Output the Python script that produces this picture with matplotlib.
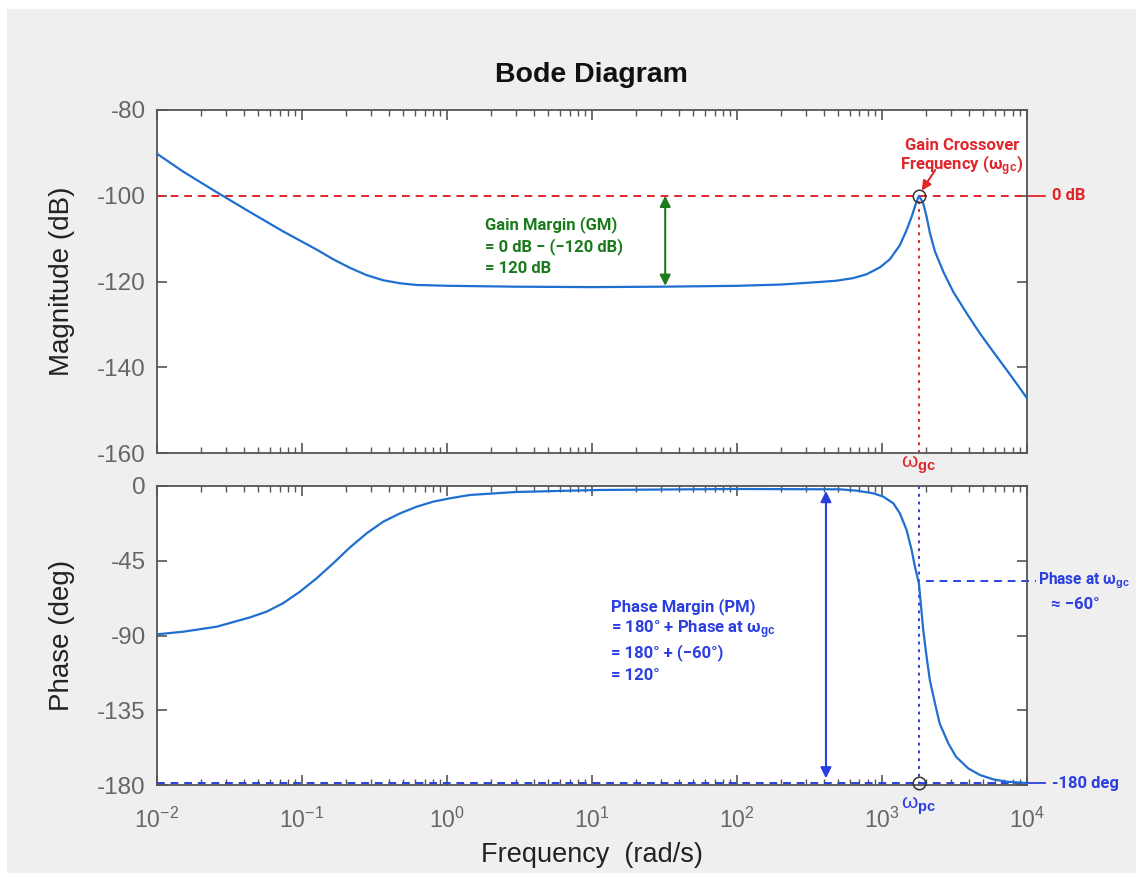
import numpy as np
import matplotlib
matplotlib.use('Agg')
import matplotlib.pyplot as plt
from matplotlib.patches import Rectangle
from matplotlib.ticker import LogLocator, NullFormatter
from matplotlib.transforms import blended_transform_factory

plt.rcParams['font.family'] = ['Liberation Sans', 'DejaVu Sans']
plt.rcParams['mathtext.fontset'] = 'custom'
plt.rcParams['mathtext.rm'] = 'Liberation Sans'
plt.rcParams['mathtext.it'] = 'Liberation Sans'
plt.rcParams['mathtext.bf'] = 'Liberation Sans:bold'
plt.rcParams['axes.unicode_minus'] = False

# magnitude curve
freq_mag = [0.01, 0.0152, 0.0259, 0.0438, 0.074, 0.127, 0.164, 0.214, 0.279, 0.363,
            0.474, 0.616, 1.05, 3, 10, 30, 100, 200, 373, 487, 634, 783, 968, 1135,
            1330, 1479, 1602, 1715, 1800, 1858, 1927, 2032, 2143, 2321, 2649, 3103,
            3839, 4744, 5861, 7244, 8954, 10000]
mag_db = [-90.2, -94.4, -99.2, -103.8, -108.3, -112.6, -114.8, -116.8, -118.5, -119.7,
          -120.4, -120.8, -121.0, -121.2, -121.3, -121.2, -121.0, -120.7, -120.1, -119.8,
          -119.2, -118.3, -116.7, -114.8, -111.5, -108.0, -104.9, -101.8, -100.0, -100.8,
          -101.8, -104.9, -108.7, -113.0, -117.7, -122.4, -127.4, -132.1, -136.4, -140.6,
          -144.9, -147.2]

# phase curve
freq_ph = [0.01, 0.0152, 0.0258, 0.0438, 0.0571, 0.074, 0.0969, 0.126, 0.164, 0.214,
           0.279, 0.363, 0.474, 0.616, 0.805, 1.05, 1.44, 3, 11, 100, 512, 668, 871,
           1021, 1197, 1330, 1479, 1602, 1689, 1800, 1880, 1927, 2032, 2139, 2321, 2500,
           2866, 3244, 3936, 4744, 5861, 7244, 10000]
phase_deg = [-89.3, -87.7, -84.7, -79.1, -75.6, -70.6, -63.6, -55.6, -46.6, -37.0,
             -28.5, -21.5, -16.5, -12.5, -9.4, -7.4, -5.4, -3.6, -2.4, -1.8, -2.0, -2.8,
             -4.4, -6.4, -10.4, -16.5, -26.5, -38.5, -48.6, -59.0, -76.7, -86.7, -102.8,
             -116.8, -130.8, -142.9, -154.9, -163.0, -170.0, -174.0, -176.6, -178.0, -178.8]

w_gc = 1800
gm_freq, gm_top, gm_bottom = 32, -100, -121
pm_freq, pm_top, pm_bottom = 411, -3, -176
phase_at_gc = -57

freq_ticks = [1e-2, 1e-1, 1e0, 1e1, 1e2, 1e3, 1e4]
mag_ticks = [-80, -100, -120, -140, -160]
phase_ticks = [0, -45, -90, -135, -180]

gm_lines = ['Gain Margin (GM)', '= 0 dB \u2212 (\u2212120 dB)', '= 120 dB']
gm_line_y = [-106.8, -111.9, -117.0]
pm_lines = ['Phase Margin (PM)', '= 180\u00b0 + Phase at \u03c9$_{\\mathbf{gc}}$',
            '= 180\u00b0 + (\u221260\u00b0)', '= 120\u00b0']
pm_line_y = [-72.8, -86.7, -100.5, -113.8]

line_blue = '#1f6fd0'
red = '#e0262c'
green = '#1b7a1b'
blue = '#2b3fe0'
tick_gray = '#666666'
spine_gray = '#555555'
ann_font = ['Roboto', 'DejaVu Sans']

fig = plt.figure(figsize=(11.36, 8.73), dpi=100, facecolor='white')
fig.patches.append(Rectangle((0.006, 0.0), 0.994, 0.99, transform=fig.transFigure,
                             facecolor='#efefef', edgecolor='none', zorder=-10))

ax1 = fig.add_axes([0.1382, 0.481, 0.7658, 0.393])
ax2 = fig.add_axes([0.1382, 0.1008, 0.7658, 0.3425])

for ax in (ax1, ax2):
    ax.set_xscale('log')
    ax.set_xticks(freq_ticks)
    ax.xaxis.set_minor_locator(LogLocator(base=10, subs=np.arange(2, 10), numticks=100))
    ax.xaxis.set_minor_formatter(NullFormatter())
    ax.set_xlim(1e-2, 1e4)
    ax.set_facecolor('white')
    for s in ax.spines.values():
        s.set_color(spine_gray)
        s.set_linewidth(1.3)
    ax.tick_params(which='both', direction='in', top=True, right=True,
                   colors=spine_gray, labelcolor=tick_gray)
    ax.tick_params(which='major', length=7, width=1.2, pad=8)
    ax.tick_params(which='minor', length=4, width=1.0)
    ax.tick_params(axis='y', labelsize=17.5)
    ax.tick_params(axis='x', labelsize=16.5)

ax1.tick_params(labelbottom=False)
ax2.tick_params(axis='x', which='major', pad=16)

# magnitude
ax1.plot(freq_mag, mag_db, color=line_blue, lw=1.6, zorder=3)
ax1.set_ylim(-160, -80)
ax1.set_yticks(mag_ticks)
ax1.set_ylabel('Magnitude (dB)', fontsize=20, color='#222222')
ax1.yaxis.set_label_coords(-0.094, 0.5)

ax1.axhline(-100, color=red, ls=(0, (4, 3)), lw=1.4, zorder=2)
ax1.plot([w_gc, w_gc], [-160, -100], color=red, ls=(0, (1.5, 2.5)), lw=1.4, zorder=2)
ax1.plot(w_gc, -100, 'o', mfc='none', mec='#333333', ms=9, mew=1.1, zorder=4)

ax1.annotate('', xy=(gm_freq, gm_top), xytext=(gm_freq, gm_bottom),
             arrowprops=dict(arrowstyle='<|-|>', color=green, lw=1.5, mutation_scale=16,
                             shrinkA=0, shrinkB=0))
for txt, yv in zip(gm_lines, gm_line_y):
    ax1.text(1.83, yv, txt, family=ann_font, fontsize=12, fontweight='bold', color=green,
             ha='left', va='center')

ax1.annotate('', xy=(1880, -98.8), xytext=(2330, -94),
             arrowprops=dict(arrowstyle='-|>', color=red, lw=1.5, mutation_scale=14,
                             shrinkA=0, shrinkB=0))
ax1.text(3565, -88.2, 'Gain Crossover', family=ann_font, fontsize=12, fontweight='bold',
         color=red, ha='center', va='center')
ax1.text(3565, -93.1, 'Frequency (\u03c9$_{\\mathbf{gc}}$)', family=ann_font, fontsize=12,
         fontweight='bold', color=red, ha='center', va='center')

tr1 = blended_transform_factory(ax1.transAxes, ax1.transData)
ax1.plot([1.0, 1.021], [-100, -100], color=red, lw=1.3, transform=tr1, clip_on=False)
ax1.text(1.029, -100, '0 dB', transform=tr1, color=red, fontsize=12, fontweight='bold',
         family=ann_font, ha='left', va='center')
tr1b = blended_transform_factory(ax1.transData, ax1.transAxes)
ax1.text(w_gc, -0.035, '\u03c9$_{\\mathbf{gc}}$', transform=tr1b, color=red, fontsize=15,
         ha='center', va='center')

# phase
ax2.plot(freq_ph, phase_deg, color=line_blue, lw=1.6, zorder=3)
ax2.set_ylim(-180, 0)
ax2.set_yticks(phase_ticks)
ax2.set_ylabel('Phase (deg)', fontsize=20, color='#222222')
ax2.yaxis.set_label_coords(-0.094, 0.5)
ax2.set_xlabel('Frequency  (rad/s)', fontsize=19.5, color='#222222')
ax2.xaxis.set_label_coords(0.5, -0.19)

ax2.plot([w_gc, w_gc], [0, -180], color=blue, ls=(0, (1.5, 2.5)), lw=1.4, zorder=2)
ax2.axhline(-179, color=blue, ls=(0, (4, 3)), lw=1.4, zorder=2)
ax2.plot(w_gc, -179, 'o', mfc='none', mec='#333333', ms=9, mew=1.1, zorder=4, clip_on=False)

tr2 = blended_transform_factory(ax2.transAxes, ax2.transData)
ax2.plot([0.8844, 1.01], [phase_at_gc, phase_at_gc], color=blue, ls=(0, (4, 3)), lw=1.4,
         transform=tr2, clip_on=False)
ax2.text(1.013, phase_at_gc, 'Phase at \u03c9$_{\\mathbf{gc}}$', transform=tr2, color=blue,
         fontsize=11.2, fontweight='bold', family=ann_font, ha='left', va='center')
ax2.text(1.055, phase_at_gc - 14.5, '\u2248 \u221260\u00b0', transform=tr2, color=blue,
         fontsize=12, fontweight='bold', family=ann_font, ha='center', va='center')
ax2.plot([1.0, 1.021], [-179, -179], color=blue, lw=1.3, transform=tr2, clip_on=False)
ax2.text(1.029, -179, '-180 deg', transform=tr2, color=blue, fontsize=12, fontweight='bold',
         family=ann_font, ha='left', va='center')

tr2b = blended_transform_factory(ax2.transData, ax2.transAxes)
ax2.text(w_gc, -0.07, '\u03c9$_{\\mathbf{pc}}$', transform=tr2b, color=blue, fontsize=15,
         ha='center', va='center')

ax2.annotate('', xy=(pm_freq, pm_top), xytext=(pm_freq, pm_bottom),
             arrowprops=dict(arrowstyle='<|-|>', color=blue, lw=1.5, mutation_scale=16,
                             shrinkA=0, shrinkB=0))
for txt, yv in zip(pm_lines, pm_line_y):
    ax2.text(13.5, yv, txt, family=ann_font, fontsize=12, fontweight='bold', color=blue,
             ha='left', va='center')

fig.text(0.521, 0.914, 'Bode Diagram', fontsize=20.5, fontweight='bold', color='#111111',
         ha='center', va='center')

fig.savefig('out.png', dpi=100, facecolor=fig.get_facecolor())
